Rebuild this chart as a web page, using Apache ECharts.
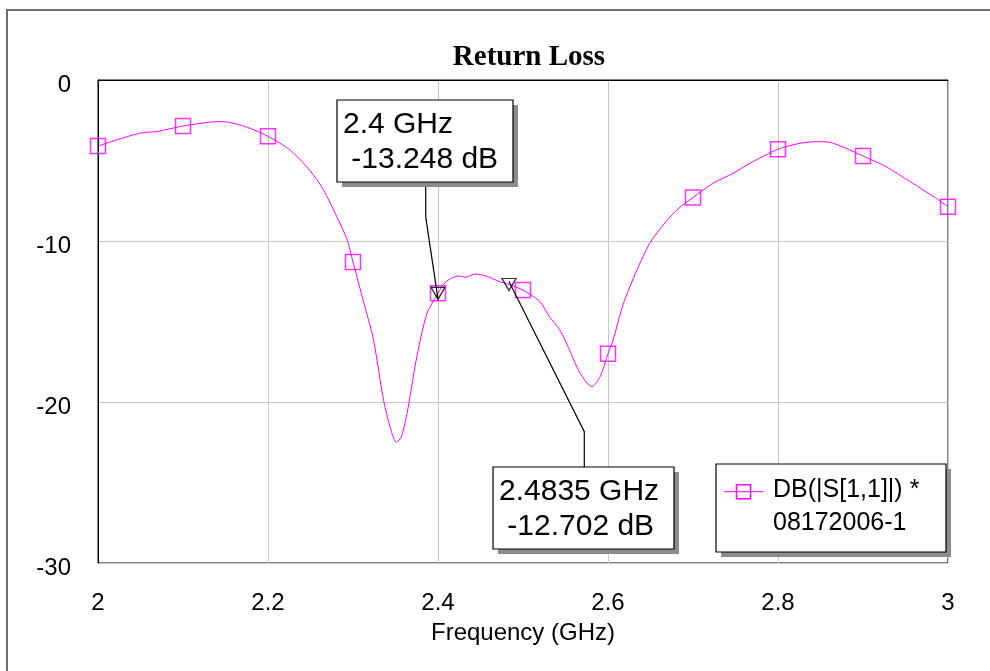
<!DOCTYPE html>
<html><head><meta charset="utf-8">
<script src="https://cdn.jsdelivr.net/npm/echarts@6/dist/echarts.min.js"></script>
<style>html,body{margin:0;padding:0;background:#fff}#c{width:990px;height:671px}</style>
</head><body><div id="c"></div>
<script>
// ---- data ----
const chartTitle = 'Return Loss';
const xAxisName = 'Frequency (GHz)';
const seriesName = 'DB(|S[1,1]|) *';
const seriesNote = '08172006-1';
const xRange = [2, 3];
const xStep = 0.2;
const yRange = [-30, 0];
const yStep = 10;

// traced S11 curve (GHz, dB)
const curveFreq = [2.000, 2.049, 2.069, 2.100, 2.140, 2.151, 2.179, 2.200, 2.226, 2.249,
  2.265, 2.281, 2.293, 2.300, 2.312, 2.324, 2.336, 2.3455, 2.351, 2.357,
  2.365, 2.375, 2.387, 2.400, 2.408, 2.416, 2.424, 2.432, 2.444, 2.458,
  2.471, 2.4835, 2.500, 2.520, 2.531, 2.543, 2.555, 2.567, 2.581, 2.591,
  2.600, 2.606, 2.618, 2.634, 2.649, 2.665, 2.681, 2.700, 2.724, 2.747,
  2.767, 2.800, 2.826, 2.845, 2.861, 2.880, 2.900, 2.927, 2.955, 2.983, 3.000];
const curveDb = [-4.1, -3.3, -3.2, -2.86, -2.59, -2.6, -3.0, -3.5, -4.35, -5.6,
  -6.8, -8.5, -9.9, -11.3, -13.7, -16.1, -19.9, -21.9, -22.5, -22.15,
  -20.3, -17.2, -14.5, -13.248, -12.6, -12.3, -12.17, -12.25, -12.05, -12.2,
  -12.5, -12.702, -13.05, -13.77, -14.7, -15.5, -16.8, -18.2, -19.05, -18.4,
  -17.0, -16.15, -13.9, -11.8, -10.15, -9.0, -8.07, -7.3, -6.4, -5.8,
  -5.17, -4.3, -3.93, -3.83, -3.87, -4.24, -4.72, -5.38, -6.3, -7.24, -7.87];

// square symbols every 0.1 GHz
const symbolFreq = [2.0, 2.1, 2.2, 2.3, 2.4, 2.5, 2.6, 2.7, 2.8, 2.9, 3.0];
const symbolDb = [-4.1, -2.86, -3.5, -11.3, -13.25, -13.05, -17.0, -7.3, -4.3, -4.72, -7.87];

// marker readouts
const markFreq = [2.4, 2.4835];
const markDb = [-13.248, -12.702];

// ---- chart ----
const FONT = '"Liberation Sans", Arial, sans-serif';
const MAG = '#ff00ff';
const chart = echarts.init(document.getElementById('c'), null, {renderer: 'canvas'});

const curve = curveFreq.map((f, i) => [f, curveDb[i]]);
const squares = symbolFreq.map((f, i) => [f, symbolDb[i]]);
const marks = markFreq.map((f, i) => [f, markDb[i]]);

const option = {
  animation: false,
  backgroundColor: '#fff',
  title: {
    text: chartTitle, left: 524, top: 38, textAlign: 'center',
    textStyle: {fontFamily: '"Liberation Serif", "Times New Roman", serif', fontWeight: 'bold', fontSize: 29, color: '#000'}
  },
  grid: {left: 98, top: 80, width: 850, height: 483, show: true, borderColor: '#000', borderWidth: 1, backgroundColor: '#fff'},
  xAxis: {
    type: 'value', min: xRange[0], max: xRange[1], interval: xStep,
    name: xAxisName, nameLocation: 'middle', nameGap: 58,
    nameTextStyle: {fontFamily: FONT, fontSize: 24, color: '#000'},
    axisLine: {show: true, lineStyle: {color: '#000', width: 1}},
    axisTick: {show: false},
    axisLabel: {fontFamily: FONT, fontSize: 24, color: '#000', margin: 28},
    splitLine: {show: true, lineStyle: {color: '#c8c8c8', width: 1}}
  },
  yAxis: {
    type: 'value', min: yRange[0], max: yRange[1], interval: yStep,
    axisLine: {show: true, lineStyle: {color: '#000', width: 1}},
    axisTick: {show: false},
    axisLabel: {fontFamily: FONT, fontSize: 24, color: '#000', margin: 27, verticalAlign: 'top', lineHeight: 10},
    splitLine: {show: true, lineStyle: {color: '#c8c8c8', width: 1}}
  },
  series: [
    {
      type: 'line', name: seriesName, data: curve, showSymbol: false, smooth: 0.25,
      lineStyle: {color: MAG, width: 1}, itemStyle: {color: MAG}, z: 3
    },
    {
      type: 'scatter', name: seriesName, data: squares, symbol: 'rect', symbolSize: 15,
      itemStyle: {color: 'transparent', borderColor: MAG, borderWidth: 1.5}, clip: true, z: 4
    },
    {
      type: 'scatter', name: 'markers', data: marks, symbol: 'triangle', symbolSize: [14, 12], symbolRotate: 180,
      itemStyle: {color: 'transparent', borderColor: '#000', borderWidth: 1.3}, z: 5
    }
  ]
};
chart.setOption(option);

// ---- annotations (callouts, legend, frame) ----
const SHADOW = '#8c8c8c';
function boxEls(x, y, w, h) {
  return [
    {type: 'rect', shape: {x: x + 5, y: y + 5, width: w, height: h}, style: {fill: SHADOW}, z: 10},
    {type: 'rect', shape: {x: x, y: y, width: w, height: h}, style: {fill: '#fff', stroke: '#000', lineWidth: 1.2}, z: 11}
  ];
}
const callouts = [
  {box: [337, 100, 176, 82], anchorX: 425.7, elbowY: 216.7, fromTop: false},
  {box: [493, 467, 181, 82], anchorX: 584.3, elbowY: 431.7, fromTop: true}
];
const els = [];
// outer frame
els.push({type: 'rect', shape: {x: 7, y: 10, width: 1100, height: 800}, style: {fill: 'none', stroke: '#6e6e6e', lineWidth: 2}, z: 20});
callouts.forEach((c, i) => {
  const [bx, by, bw, bh] = c.box;
  const p = chart.convertToPixel({gridIndex: 0}, marks[i]);
  const startY = c.fromTop ? by : by + bh;
  els.push({type: 'polyline', shape: {points: [[c.anchorX, startY], [c.anchorX, c.elbowY], [p[0], p[1] + (c.fromTop ? -3 : 6)]]},
    style: {stroke: '#000', lineWidth: 1.2, fill: 'none'}, z: 9});
  els.push(...boxEls(bx, by, bw, bh));
  els.push({type: 'text', x: bx + 6, y: by + 7, z: 12,
    style: {text: markFreq[i] + ' GHz\n ' + markDb[i].toFixed(3) + ' dB', fontFamily: FONT, fontSize: 30, lineHeight: 35, fill: '#000', verticalAlign: 'top', align: 'left'}});
});
// legend
const lg = [716, 464, 230, 88];
els.push(...boxEls(lg[0], lg[1], lg[2], lg[3]));
els.push({type: 'line', shape: {x1: 724, y1: 491.7, x2: 763.5, y2: 491.7}, style: {stroke: MAG, lineWidth: 1}, z: 12});
els.push({type: 'rect', shape: {x: 736.5, y: 484.7, width: 14, height: 14}, style: {fill: 'none', stroke: MAG, lineWidth: 1.5}, z: 12});
els.push({type: 'text', x: 773, y: 490, z: 12, style: {text: seriesName, fontFamily: FONT, fontSize: 25, fill: '#000', verticalAlign: 'middle'}});
els.push({type: 'text', x: 773, y: 523.5, z: 12, style: {text: seriesNote, fontFamily: FONT, fontSize: 25, fill: '#000', verticalAlign: 'middle'}});

chart.setOption({graphic: {elements: els}});
</script>
</body></html>
